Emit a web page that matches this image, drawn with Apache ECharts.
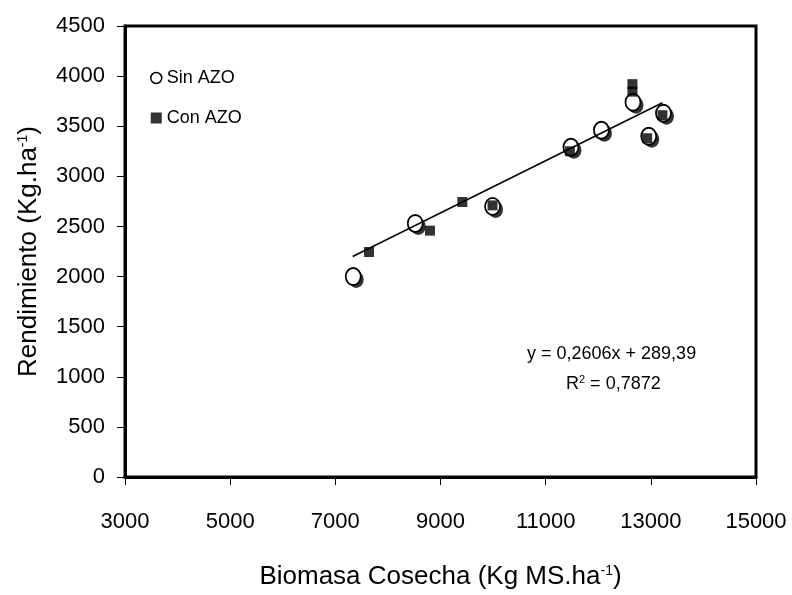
<!DOCTYPE html>
<html>
<head>
<meta charset="utf-8">
<script src="https://cdn.jsdelivr.net/npm/echarts@6/dist/echarts.min.js"></script>
<style>
html,body{margin:0;padding:0;background:#fff;}
#chart{width:792px;height:595px;}
</style>
</head>
<body>
<div id="chart"></div>
<script>
// ---- data ----
var sinAZO = [
  [7340, 2000], [8520, 2530], [9990, 2700], [11480, 3290],
  [12060, 3460], [12660, 3740], [12960, 3400], [13240, 3630]
];
var conAZO = [
  [7640, 2245], [8800, 2458], [9415, 2744], [9990, 2710],
  [11460, 3250], [12650, 3920], [12650, 3845], [12930, 3380], [13220, 3610]
];
var trendLine = [[7330, 2200], [13220, 3734]];
var xTicks = [3000, 5000, 7000, 9000, 11000, 13000, 15000];
var yTicks = [0, 500, 1000, 1500, 2000, 2500, 3000, 3500, 4000, 4500];
var equationText = 'y = 0,2606x + 289,39';
var r2Text = '0,7872';

var FONT = "'Liberation Sans', Arial, sans-serif";
var chart = echarts.init(document.getElementById('chart'), null, {renderer: 'canvas'});

var option = {
  animation: false,
  backgroundColor: '#fff',
  textStyle: {fontFamily: FONT, color: '#000'},
  grid: {left: 125, right: 36, top: 26, bottom: 112, show: true, borderColor: '#000', borderWidth: 3, backgroundColor: 'transparent'},
  legend: {
    orient: 'vertical', left: 145, top: 63, itemWidth: 11, itemHeight: 11, itemGap: 20,
    textStyle: {fontFamily: FONT, fontSize: 18, color: '#000', lineHeight: 20, padding: [0, 0, 0, 0]},
    data: [
      {name: 'Sin AZO', icon: 'circle', itemStyle: {color: '#fff', borderColor: '#000', borderWidth: 1.5}},
      {name: 'Con AZO', icon: 'rect', itemStyle: {color: '#000'}}
    ]
  },
  xAxis: {
    type: 'value', min: xTicks[0], max: xTicks[xTicks.length - 1],
    splitLine: {show: false},
    axisLine: {onZero: false, lineStyle: {color: '#000', width: 3}},
    axisTick: {show: true, length: 8, lineStyle: {color: '#000', width: 1}, customValues: xTicks},
    axisLabel: {fontFamily: FONT, fontSize: 22, color: '#000', margin: 34, customValues: xTicks,
      formatter: function (v) { return String(v); }},
    name: 'Biomasa Cosecha (Kg MS.ha{sup|-1})',
    nameLocation: 'middle', nameGap: 87,
    nameTextStyle: {fontFamily: FONT, fontSize: 26, color: '#000', rich: {sup: {fontSize: 14, verticalAlign: 'top', padding: [0, 0, 12, 0]}}}
  },
  yAxis: {
    type: 'value', min: 0, max: 4500, interval: 500,
    splitLine: {show: false},
    axisLine: {lineStyle: {color: '#000', width: 3}},
    axisTick: {show: true, length: 8, lineStyle: {color: '#000', width: 1}},
    axisLabel: {fontFamily: FONT, fontSize: 22, color: '#000', margin: 20,
      formatter: function (v) { return String(v); }},
    name: 'Rendimiento (Kg.ha{sup|-1})',
    nameLocation: 'middle', nameGap: 83,
    nameTextStyle: {fontFamily: FONT, fontSize: 26, color: '#000', rich: {sup: {fontSize: 14, verticalAlign: 'top', padding: [0, 0, 12, 0]}}}
  },
  series: [
    {
      name: 'shadow', type: 'scatter', data: sinAZO, symbol: 'circle', symbolSize: [15, 17],
      symbolOffset: [3, 3], itemStyle: {color: '#000'}, z: 1, legendHoverLink: false, silent: true
    },
    {
      name: 'Sin AZO', type: 'scatter', data: sinAZO, symbol: 'circle', symbolSize: [15, 17],
      itemStyle: {color: '#fff', borderColor: '#000', borderWidth: 1.8, opacity: 1}, z: 2
    },
    {
      name: 'Con AZO', type: 'scatter', data: conAZO, symbol: 'rect', symbolSize: 10,
      itemStyle: {color: '#000'}, z: 3
    },
    {
      name: 'trend', type: 'line', data: trendLine, symbol: 'none',
      lineStyle: {color: '#000', width: 1.5}, z: 4, silent: true
    }
  ],
  graphic: [
    {type: 'text', left: 527, top: 345, z: 10, style: {text: equationText, fontFamily: FONT, fontSize: 18, fill: '#000'}},
    {type: 'text', left: 566, top: 374, z: 10, style: {
      text: 'R{s|2} = ' + r2Text, fontFamily: FONT, fontSize: 18, fill: '#000',
      rich: {s: {fontSize: 11, verticalAlign: 'top', padding: [0, 0, 9, 0]}}
    }}
  ]
};
chart.setOption(option);
</script>
</body>
</html>
